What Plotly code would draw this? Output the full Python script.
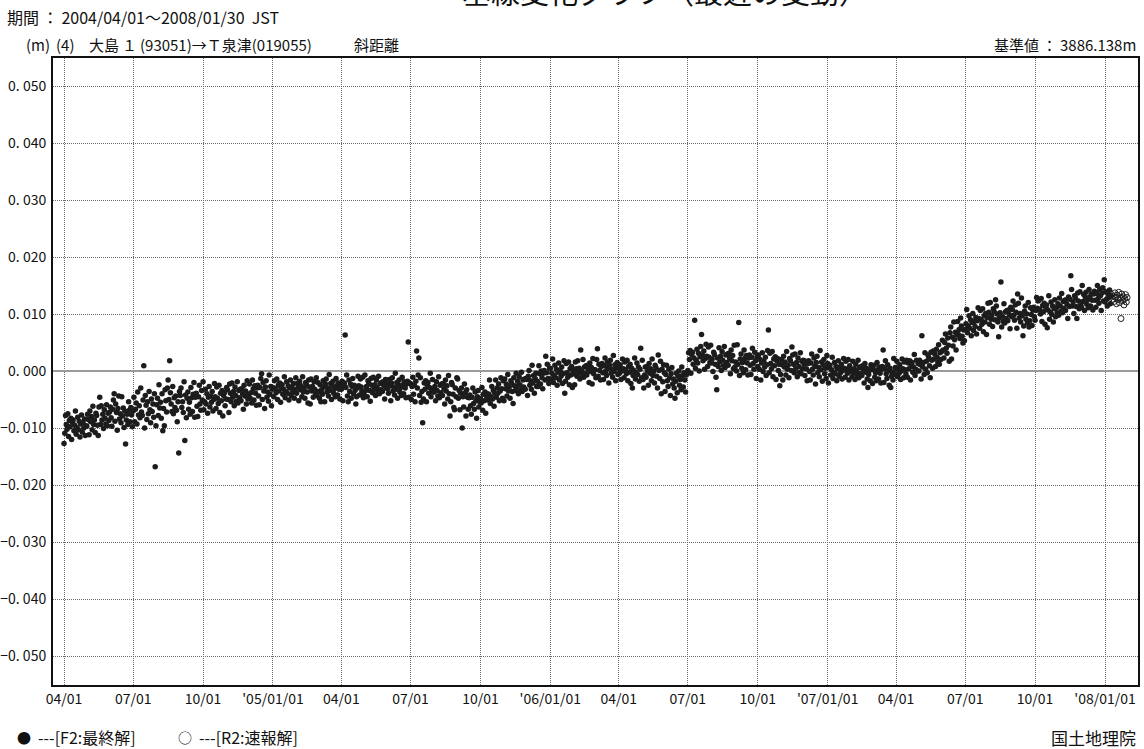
import pandas as pd
import plotly.graph_objects as go

# ---- data (mm, daily values) ----
m2004_04 = [-12.7, -10.9, -7.8, -9.4, -10.2, -7.5, -11.5, -8.7, -9.8, -8.3, -12.0, -9.0, -8.6, -10.5, -9.5, -7.0, -11.1, -9.9, -8.1, -10.3, -8.8, -11.6, -9.3, -7.7, -10.7, -9.1, -10.0, -8.4, -11.3, -9.6]
m2004_05 = [-9.7, -7.6, -8.5, -11.2, -7.0, -8.9, -8.0, -10.3, -6.2, -9.4, -8.6, -10.8, -7.4, -7.8, -9.5, -11.3, -6.3, -4.6, -9.4, -6.1, -8.6, -7.6, -10.1, -6.8, -8.3, -9.3, -5.9, -9.6, -7.4, -8.7, -7.2]
m2004_06 = [-6.3, -8.2, -9.7, -6.7, -5.1, -4.0, -8.8, -5.8, -7.3, -10.4, -6.6, -4.4, -8.4, -7.5, -9.1, -4.5, -7.9, -6.5, -9.9, -7.0, -12.8, -8.6, -7.6, -9.4, -5.4, -6.9, -8.9, -6.4, -7.7, -9.8]
m2004_07 = [-7.0, -4.6, -8.9, -6.7, -5.6, -9.3, -3.7, -7.7, -6.1, -8.2, -3.0, -7.2, -7.8, -5.1, 0.9, -10.0, -4.3, -6.0, -8.5, -5.4, -7.5, -3.6, -6.8, -9.1, -4.9, -7.1, -5.8, -8.1, -4.0, -16.8, -9.6]
m2004_08 = [-5.9, -4.8, -7.8, -2.4, -6.5, -5.5, -8.3, -4.0, -10.5, -6.6, -9.6, -3.3, -5.2, -7.2, -3.0, -1.6, -5.0, 1.8, -3.8, -5.8, -7.1, -2.7, -7.5, -4.7, -6.4, -4.4, -6.9, -8.9, -5.4, -14.4, -3.6]
m2004_09 = [-4.3, -3.0, -6.4, -5.4, -7.3, -1.9, -12.2, -4.2, -8.2, -4.8, -3.7, -6.7, -5.5, -7.6, -2.9, -4.7, -7.1, -4.1, -2.0, -8.1, -4.6, -3.9, -6.2, -8.0, -4.5, -2.5, -5.8, -6.9, -3.4, -5.1]
m2004_10 = [-1.9, -6.8, -5.4, -3.2, -5.8, -4.0, -7.4, -4.6, -2.7, -6.3, -4.4, -5.5, -3.6, -7.0, -5.0, -2.2, -4.5, -6.6, -2.8, -4.8, -5.7, -2.5, -7.3, -3.9, -5.2, -3.4, -7.9, -4.3, -3.8, -6.1, -4.9]
m2004_11 = [-2.9, -3.3, -5.0, -7.3, -2.3, -3.9, -5.4, -2.1, -4.6, -3.6, -6.1, -2.8, -4.3, -5.3, -1.9, -5.6, -3.4, -4.7, -3.2, -5.2, -3.1, -4.0, -6.7, -2.5, -4.4, -3.5, -5.8, -1.7, -4.9, -4.1]
m2004_12 = [-2.3, -4.8, -3.8, -5.6, -1.6, -3.1, -5.1, -2.6, -3.9, -6.0, -3.0, -2.5, -4.4, -5.9, -2.9, -1.3, -0.5, -5.0, -2.0, -3.5, -6.6, -2.8, -1.7, -4.6, -3.7, -5.3, -0.7, -4.1, -2.7, -6.1, -3.2]
m2005_01 = [-2.9, -4.5, -1.7, -3.1, -3.8, -1.4, -5.0, -2.5, -3.5, -2.1, -5.5, -2.8, -2.4, -4.1, -3.2, -1.0, -4.7, -3.6, -1.9, -3.9, -2.6, -5.1, -3.0, -1.6, -4.3, -2.8, -3.7, -2.2, -4.8, -3.3, -1.2]
m2005_02 = [-3.9, -2.2, -2.9, -5.2, -1.8, -3.3, -2.6, -4.5, -1.0, -3.7, -3.0, -4.8, -2.0, -2.4, -3.7, -5.6, -1.6, -2.8, -5.8, -1.4, -3.5, -2.7, -4.6, -1.9, -3.2, -4.0, -1.2, -4.3]
m2005_03 = [-2.0, -3.6, -4.8, -2.4, -5.4, -3.3, -4.1, -1.7, -2.8, -5.4, -2.3, -1.4, -3.7, -3.0, -4.4, -0.6, -3.4, -2.2, -5.0, -2.6, -1.8, -3.9, -3.1, -4.5, -1.3, -2.6, -4.2, -2.1, -3.2, -4.9, -2.5]
m2005_04 = [-3.2, -1.8, -5.2, -2.5, -2.1, 6.3, -2.9, -0.7, -4.4, -5.4, -1.6, -3.6, -2.3, -4.8, -2.7, -1.3, -4.0, -2.5, -3.4, -5.8, -4.5, -3.0, -0.9, -2.6, -4.2, -1.4, -2.8, -3.5, -1.1, -4.7]
m2005_05 = [-4.2, -0.7, -3.4, -2.7, -4.5, -1.7, -2.1, -3.4, -5.3, -1.3, -2.5, -3.8, -1.1, -3.2, -2.4, -4.3, -1.6, -2.9, -3.7, -0.9, -4.0, -2.2, -3.3, -2.0, -3.6, -1.9, -2.6, -4.9, -1.5, -3.0, -2.3]
m2005_06 = [-3.1, -3.9, -1.5, -2.6, -5.2, -2.1, -1.2, -3.5, -2.8, -4.2, -0.4, -3.2, -2.0, -4.8, -2.4, -1.6, -3.7, -2.9, -4.3, -1.1, -2.4, -4.0, -1.9, -3.0, -4.7, -2.3, -1.8, 5.1, -4.6, -2.2]
m2005_07 = [-2.2, -5.0, -2.7, -1.1, -4.1, -2.5, -5.4, -1.8, 3.5, -3.0, -0.7, 2.3, -4.3, -1.2, -5.5, -3.6, -9.1, -4.9, -2.1, -3.2, -1.7, -5.4, -2.4, -2.0, -3.9, -2.9, -0.4, -4.5, -3.3, -1.5, -3.7]
m2005_08 = [-3.7, -2.7, -5.2, -1.9, -3.4, -4.4, -1.0, -4.7, -2.5, -3.8, -2.3, -4.3, -2.2, -3.1, -5.8, -1.6, -3.5, -2.6, -4.9, -0.8, -4.0, -7.9, -5.4, -2.0, -2.4, -4.1, -6.4, -6.8, -3.0, -4.5, -1.2]
m2005_09 = [-1.4, -4.8, -3.4, -6.8, -3.9, -3.0, -10.0, -4.5, -6.3, -2.3, -3.8, -7.9, -3.3, -4.6, -6.7, -4.7, -4.2, -6.1, -7.6, -4.6, -3.0, -5.7, -6.7, -3.7, -5.2, -8.3, -4.5, -3.4, -6.3, -5.4]
m2005_10 = [-4.8, -5.6, -2.9, -6.9, -4.1, -5.2, -3.7, -7.4, -4.4, -4.0, -5.1, -4.1, -1.6, -5.7, -4.5, -2.7, -4.9, -3.4, -6.2, -3.9, -1.6, -4.6, -3.0, -3.9, -2.3, -5.2, -3.5, -1.2, -3.1, -4.8, -1.7]
m2005_11 = [-5.2, -1.4, -3.1, -2.3, -4.4, -0.6, -3.5, -2.8, -4.8, -1.7, -2.1, -3.6, -5.7, -1.2, -2.6, -3.4, -0.4, -2.7, -1.8, -4.0, -1.0, -2.4, -3.3, -0.2, -3.6, -1.6, -2.8, -1.4, -3.2, -1.3]
m2005_12 = [-1.5, -4.3, -0.9, 0.1, -2.5, -1.7, -3.2, 1.0, -2.1, -0.8, -3.9, -1.3, -0.4, -2.7, -1.8, -2.7, 0.9, -0.5, -2.3, 0.0, -1.2, -3.1, -0.4, 0.1, -1.6, 2.6, -0.3, 1.2, -1.3, -2.2, 0.5]
m2006_01 = [0.5, -1.4, -0.4, 2.1, -2.0, -0.8, 1.0, -1.2, 0.3, -2.5, -0.2, 1.4, -1.6, 0.0, -0.9, 0.7, -2.2, -0.5, 1.8, -3.9, -1.8, 1.3, -0.3, -1.1, 1.6, -2.4, 0.4, -0.7, 0.8, -2.9, 0.1]
m2006_02 = [-0.5, -2.4, 1.6, 0.4, -0.9, 1.8, -0.3, 0.5, -1.4, 3.7, 0.0, -0.8, 2.0, -1.1, 0.7, -0.4, 0.9, -0.7, 1.0, 0.3, -2.0, 1.4, -0.1, 0.6, -2.3, 2.2, -0.5, 0.2]
m2006_03 = [0.2, -1.2, 2.0, 3.9, -0.9, 1.2, 0.1, -1.6, 0.8, 1.3, -0.3, -1.5, 0.9, 2.3, 0.0, -0.8, 1.6, 0.5, -2.1, 1.0, 1.9, -0.4, 0.3, -1.1, 2.7, -0.1, 1.1, -1.7, 0.6, 1.5, -0.6]
m2006_04 = [0.5, -0.4, 1.1, -1.5, 0.0, 2.1, 0.4, -1.2, 1.6, 0.2, -0.5, 1.9, -1.7, 0.8, -0.2, 1.2, -2.2, 0.5, -3.0, -0.8, 0.1, 2.3, -1.4, -0.3, 1.4, -0.6, 0.7, -1.8, 0.3, 4.0]
m2006_05 = [-1.2, 1.9, -1.5, -3.0, -0.7, 0.7, -1.1, 0.8, 0.0, -2.5, 1.3, -0.4, 0.4, -1.7, 2.1, -0.8, -0.1, -2.1, 1.0, 0.6, -0.9, -3.0, 2.8, 0.1, -1.3, 1.7, -4.0, 0.3, -1.9, 1.1, -0.3]
m2006_06 = [-3.6, -0.6, 1.0, -1.7, -2.7, 0.3, -1.2, -4.3, -0.5, 0.6, -2.3, -1.4, -3.0, -4.8, -1.8, -0.4, -3.8, -0.9, 0.0, -2.5, -1.5, -3.3, 0.7, -0.8, -2.8, -0.3, -1.6, -3.7, -0.7, -0.2]
m2006_07 = [0.1, 3.2, 2.0, 3.6, -0.4, 2.9, 3.3, 1.2, 2.3, 8.9, 0.5, 1.9, 3.8, 1.4, 3.1, 0.0, 2.5, 4.3, 6.4, 2.8, 1.8, 3.5, 0.3, 2.2, 4.7, 2.6, 0.8, 4.2, 2.4, 1.5, 4.5]
m2006_08 = [1.4, 2.1, -0.1, 3.3, 2.9, 1.2, -1.1, -3.3, 2.3, 0.8, 4.1, 1.6, 2.6, 0.1, 3.4, 1.9, 0.9, 4.3, 0.6, 2.8, 1.5, 3.0, 1.0, 3.1, 2.2, -0.5, 3.7, 1.8, 2.7, 0.4, 4.5]
m2006_09 = [0.7, 1.6, 0.0, 4.6, 1.2, 8.5, -0.8, 2.1, 3.0, 0.5, 1.5, -0.3, 3.7, 2.2, 0.2, 2.7, 1.4, -0.7, 2.3, 2.8, 1.0, -0.6, 2.4, 4.0, 1.3, 0.3, 3.3, 1.8, -1.3, 2.5]
m2006_10 = [0.8, 2.8, 0.3, 2.0, -1.6, 1.4, 3.2, -0.1, 1.7, 0.7, 2.4, -0.8, 1.1, 3.6, 7.2, -0.3, 3.1, 1.3, 0.4, 3.4, -1.0, 2.1, 0.9, 2.5, -1.5, 1.8, 2.2, 0.1, 1.2, -2.6, -0.6]
m2006_11 = [2.0, 1.1, -1.6, 2.6, 0.7, 1.6, -0.7, 3.4, 0.3, 1.0, -1.2, 2.2, 1.8, 0.1, 4.2, 2.8, 1.2, -0.3, 3.0, 0.5, 1.5, -1.0, 2.3, 0.8, -0.2, 3.2, -0.5, 1.7, 0.4, 1.9]
m2006_12 = [1.2, -0.8, 1.7, 0.4, -1.7, 1.3, 1.8, -0.1, -1.6, 1.4, 3.0, 0.3, -0.7, 2.3, 0.8, -2.3, 1.5, 2.6, -0.3, 0.6, -1.0, 3.6, 0.2, 1.6, -1.8, 1.1, 2.0, -0.5, 0.5, -1.3, 2.7]
m2007_01 = [1.3, -2.1, 0.6, 1.0, -0.7, 0.2, 2.4, -1.3, -0.2, 1.5, -0.5, 0.8, -1.7, 0.4, 1.8, -0.9, 0.6, -0.3, 1.2, -1.4, 0.1, 2.2, 0.5, -1.1, 1.7, 0.3, -0.4, 2.0, -1.6, 0.9, -0.1]
m2007_02 = [0.3, -1.0, 1.7, -0.4, 0.4, -1.5, 1.2, -0.1, -0.9, 1.9, -1.2, 0.6, -0.5, 0.8, -0.8, 0.9, 0.2, -2.1, 1.3, -0.2, 0.5, -1.4, -2.9, -0.6, 0.1, -1.7, 1.1, 0.7]
m2007_03 = [-2.2, 0.2, 1.0, -1.1, -0.3, -1.7, 1.5, 0.2, -1.4, 0.7, -0.4, -2.1, 0.3, 0.8, 3.7, -2.0, 0.4, 1.8, -0.5, -1.3, 1.1, 0.0, -2.5, 0.5, -2.9, -0.9, -0.2, -1.6, 2.2, -0.6, 0.6]
m2007_04 = [0.3, 1.7, -1.0, 0.5, -0.4, 1.1, -1.5, 0.0, 2.1, 0.4, -1.2, 1.6, 0.2, -0.5, 1.9, -1.1, 1.4, 0.4, 1.8, -1.6, 1.1, 1.5, -0.2, 0.7, 2.9, -0.8, 0.3, 1.9, 0.0, 1.3]
m2007_05 = [0.0, 1.9, 1.1, -1.4, 6.2, 0.7, 1.5, -0.6, 3.2, 0.3, 1.7, -0.3, 2.8, 2.4, 0.9, -1.2, 3.3, 1.9, 0.5, 3.5, 2.1, 3.0, 0.8, 3.8, 2.4, 1.5, 4.6, 1.2, 3.2, 2.0, 3.4]
m2007_06 = [5.4, 3.7, 2.3, 5.0, 6.5, 4.0, 3.1, 5.8, 4.5, 1.7, 6.7, 7.7, 2.1, 5.9, 4.4, 8.6, 5.5, 6.8, 3.7, 6.3, 8.7, 6.4, 7.3, 5.7, 9.3, 7.9, 6.1, 4.9, 7.2, 5.3]
m2007_07 = [7.3, 8.3, 10.8, 6.7, 7.9, 9.7, 7.5, 9.0, 6.2, 8.5, 10.1, 7.1, 8.7, 7.8, 9.4, 6.5, 8.8, 11.1, 9.2, 7.5, 10.6, 9.0, 8.2, 10.9, 6.9, 9.7, 8.6, 10.1, 6.4, 9.4, 11.9]
m2007_08 = [10.3, 8.2, 12.0, 9.1, 9.8, 7.8, 10.9, 10.5, 9.0, 12.5, 11.4, 10.0, 8.6, 6.0, 9.3, 10.2, 15.6, 7.7, 9.6, 8.7, 11.8, 8.4, 10.4, 9.2, 10.6, 8.8, 10.7, 9.9, 7.4, 11.2, 9.5]
m2007_09 = [10.8, 12.3, 9.8, 8.9, 11.6, 10.3, 7.5, 13.5, 11.9, 9.3, 10.1, 8.6, 12.8, 9.7, 6.2, 7.9, 10.5, 11.4, 9.1, 10.0, 8.4, 12.0, 7.7, 8.8, 11.1, 9.9, 8.0, 10.7, 11.2, 9.5]
m2007_10 = [8.9, 10.6, 12.9, 11.0, 12.3, 12.4, 10.8, 10.0, 12.7, 8.7, 11.5, 10.4, 11.9, 8.2, 11.2, 11.6, 7.6, 10.7, 13.2, 9.1, 10.3, 12.1, 9.9, 11.4, 8.6, 10.9, 12.5, 9.5, 11.1, 10.2, 11.8]
m2007_11 = [9.8, 12.8, 11.4, 10.5, 13.6, 10.2, 12.2, 11.0, 12.4, 10.6, 12.5, 11.7, 9.2, 13.0, 11.3, 12.6, 16.7, 14.3, 11.4, 12.1, 10.1, 13.2, 12.8, 11.3, 9.2, 13.7, 12.3, 10.9, 13.9, 11.6]
m2007_12 = [11.2, 15.0, 12.2, 13.4, 10.6, 13.0, 13.8, 11.7, 12.5, 11.1, 14.3, 13.0, 11.4, 13.5, 12.4, 10.7, 13.5, 14.0, 12.4, 11.2, 13.6, 15.0, 12.7, 11.9, 14.3, 13.2, 10.6, 13.7, 14.6, 12.3, 16.0]
m2008_01 = [12.1, 13.9, 12.6, 11.4, 13.5, 12.9, 14.2, 11.8, 13.2]

# R2 (rapid solution), daily from 2008-01-10
r2_start = "2008-01-10"
r2_2008_01 = [13.4, 12.6, 13.1, 12.2, 13.7, 12.9, 11.8, 13.3, 12.5, 13.8, 12.0, 12.8, 9.2, 13.5, 12.3, 13.0, 11.6, 12.7, 13.4, 12.1, 12.9]

f2_months = [
    ("2004-04-01", m2004_04), ("2004-05-01", m2004_05), ("2004-06-01", m2004_06),
    ("2004-07-01", m2004_07), ("2004-08-01", m2004_08), ("2004-09-01", m2004_09),
    ("2004-10-01", m2004_10), ("2004-11-01", m2004_11), ("2004-12-01", m2004_12),
    ("2005-01-01", m2005_01), ("2005-02-01", m2005_02), ("2005-03-01", m2005_03),
    ("2005-04-01", m2005_04), ("2005-05-01", m2005_05), ("2005-06-01", m2005_06),
    ("2005-07-01", m2005_07), ("2005-08-01", m2005_08), ("2005-09-01", m2005_09),
    ("2005-10-01", m2005_10), ("2005-11-01", m2005_11), ("2005-12-01", m2005_12),
    ("2006-01-01", m2006_01), ("2006-02-01", m2006_02), ("2006-03-01", m2006_03),
    ("2006-04-01", m2006_04), ("2006-05-01", m2006_05), ("2006-06-01", m2006_06),
    ("2006-07-01", m2006_07), ("2006-08-01", m2006_08), ("2006-09-01", m2006_09),
    ("2006-10-01", m2006_10), ("2006-11-01", m2006_11), ("2006-12-01", m2006_12),
    ("2007-01-01", m2007_01), ("2007-02-01", m2007_02), ("2007-03-01", m2007_03),
    ("2007-04-01", m2007_04), ("2007-05-01", m2007_05), ("2007-06-01", m2007_06),
    ("2007-07-01", m2007_07), ("2007-08-01", m2007_08), ("2007-09-01", m2007_09),
    ("2007-10-01", m2007_10), ("2007-11-01", m2007_11), ("2007-12-01", m2007_12),
    ("2008-01-01", m2008_01),
]

x_tickvals = ["2004-04-01", "2004-07-01", "2004-10-01", "2005-01-01", "2005-04-01",
              "2005-07-01", "2005-10-01", "2006-01-01", "2006-04-01", "2006-07-01",
              "2006-10-01", "2007-01-01", "2007-04-01", "2007-07-01", "2007-10-01",
              "2008-01-01"]
x_ticktext = ["04/01", "07/01", "10/01", "'05/01/01", "04/01", "07/01", "10/01",
              "'06/01/01", "04/01", "07/01", "10/01", "'07/01/01", "04/01", "07/01",
              "10/01", "'08/01/01"]
y_tickvals = [0.05, 0.04, 0.03, 0.02, 0.01, 0.0, -0.01, -0.02, -0.03, -0.04, -0.05]
y_ticktext = ["0. 050", "0. 040", "0. 030", "0. 020", "0. 010", "0. 000",
              "\u22120. 010", "\u22120. 020", "\u22120. 030", "\u22120. 040", "\u22120. 050"]

# ---- build series ----
f2_x, f2_y = [], []
for start, vals in f2_months:
    d = pd.date_range(start, periods=len(vals), freq="D")
    f2_x += list(d)
    f2_y += [v / 1000.0 for v in vals]
r2_x = list(pd.date_range(r2_start, periods=len(r2_2008_01), freq="D"))
r2_y = [v / 1000.0 for v in r2_2008_01]

W, H = 1144, 749
L, R, T, B = 53, 1138, 58, 685
FONT = "Noto Sans CJK JP"

fig = go.Figure()
fig.add_trace(go.Scatter(x=f2_x, y=f2_y, mode="markers",
                         marker=dict(size=5.5, color="#1c1c1c", line=dict(width=0)),
                         name="F2", showlegend=False))
fig.add_trace(go.Scatter(x=r2_x, y=r2_y, mode="markers",
                         marker=dict(size=6, symbol="circle-open", color="#1c1c1c",
                                     line=dict(width=1)),
                         name="R2", showlegend=False))

fig.update_layout(
    width=W, height=H,
    margin=dict(l=L, r=W - R, t=T, b=H - B, autoexpand=False),
    paper_bgcolor="white", plot_bgcolor="white",
    font=dict(family=FONT, color="#111", size=14),
    showlegend=False,
)
fig.update_xaxes(
    type="date", range=["2004-03-17 12:00", "2008-02-13 10:00"],
    tickmode="array", tickvals=x_tickvals, ticktext=x_ticktext,
    showgrid=True, gridcolor="#6a6a6a", griddash="1px,1px", gridwidth=1,
    showline=True, linecolor="#111", linewidth=2, mirror=True,
    ticks="", tickfont=dict(family=FONT, size=14, color="#111"),
    zeroline=False,
)
fig.update_yaxes(
    range=[-0.055088, 0.054912],
    tickmode="array", tickvals=y_tickvals, ticktext=y_ticktext,
    showgrid=True, gridcolor="#6a6a6a", griddash="1px,1px", gridwidth=1,
    showline=True, linecolor="#111", linewidth=2, mirror=True,
    ticks="", ticklabelstandoff=2, tickfont=dict(family=FONT, size=14, color="#111"),
    zeroline=True, zerolinecolor="#9a9a9a", zerolinewidth=1.5,
)

def px(x):
    return (x - L) / (R - L)

def py(y):
    return (B - y) / (B - T)

def note(text, x, y, xanchor="left", size=15):
    fig.add_annotation(text=text, xref="paper", yref="paper", x=px(x), y=py(y),
                       xanchor=xanchor, yanchor="middle", showarrow=False,
                       borderpad=0, font=dict(family=FONT, size=size, color="#111"))

note("基線変化グラフ（最近の変動）", 665, -9, xanchor="center", size=29)
note("期間\u2009：\u20092004/04/01～2008/01/30\u00a0\u00a0JST", 6, 17, size=16)
# second header line, pieces placed as in the reference
note("(m)", 25, 44)
note("(4)", 55, 44)
note("大島\u2009１", 88, 44)
note("(93051)→Ｔ泉津(019055)", 139, 44)
note("斜距離", 353, 44)
note("基準値\u2009：\u20093886.138m", 1137, 44, xanchor="right")
# footer legend texts
note("●", 16, 737, size=14)
note("---[F2:最終解]", 37, 737, size=16)
note("○", 177, 737, size=14)
note("---[R2:速報解]", 198, 737, size=16)
note("国土地理院", 1137, 737, xanchor="right", size=17)

fig.write_html("out.html", config={"displayModeBar": False},
               post_script="document.body.style.margin='0px';")
